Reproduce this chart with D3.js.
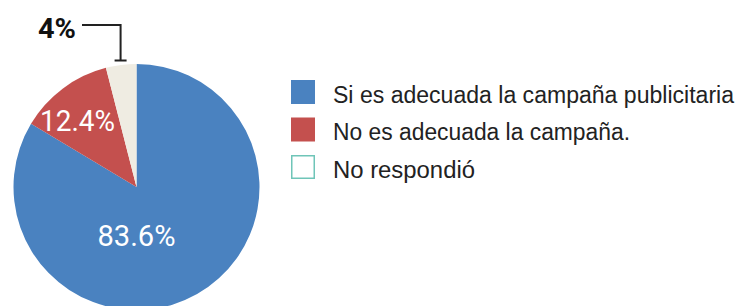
<!DOCTYPE html>
<html><head><meta charset="utf-8">
<script src="https://cdn.jsdelivr.net/npm/d3@7"></script>
<style>html,body{margin:0;padding:0;background:#fff;}svg{display:block;}</style>
</head><body>
<svg id="c" width="746" height="306"></svg>
<script>
const categories = ["Si es adecuada la campaña publicitaria", "No es adecuada la campaña.", "No respondió"];
const values = [83.6, 12.4, 4];
const valueLabels = ["83.6%", "12.4%", "4%"];
const colors = ["#4a82c0", "#c4504e", "#efece2"];
const legendStroke = [null, null, "#6fc5b8"];
const legendWidths = [401, 297, 142];

const svg = d3.select("#c");
const cx = 136.5, cy = 187, r = 123;
const g = svg.append("g").attr("transform", `translate(${cx},${cy})`);
const pie = d3.pie().sort(null).value(d => d)(values);
const arc = d3.arc().innerRadius(0).outerRadius(r);
g.selectAll("path").data(pie).join("path")
  .attr("d", arc).attr("fill", (d, i) => colors[i]);

// Labels
const labelOffsets = [[0, 59], [-59, -56], null];
const labelSizes = [30, 30];
const labelWidths = [78, 75];
pie.forEach((d, i) => {
  if (!labelOffsets[i]) return;
  g.append("text").attr("x", labelOffsets[i][0]).attr("y", labelOffsets[i][1])
    .attr("text-anchor", "middle").attr("fill", "#fff")
    .attr("font-family", "Roboto, sans-serif").attr("font-size", labelSizes[i])
    .attr("textLength", labelWidths[i]).attr("lengthAdjust", "spacingAndGlyphs")
    .text(valueLabels[i]);
});

// Callout for the small slice
const small = pie[2];
const mid = (small.startAngle + small.endAngle) / 2;
const tipX = cx + Math.sin(mid) * (r + 4), tipY = 60.5;
svg.append("path")
  .attr("d", `M82,25 H${tipX} V${tipY} M${tipX - 6},${tipY} H${tipX + 6}`)
  .attr("fill", "none").attr("stroke", "#222").attr("stroke-width", 2);
svg.append("text").attr("x", 57).attr("y", 38).attr("text-anchor", "middle")
  .attr("font-family", "Roboto, sans-serif").attr("font-weight", "bold").attr("font-size", 27)
  .attr("fill", "#111").attr("textLength", 38).attr("lengthAdjust", "spacingAndGlyphs")
  .text(valueLabels[2]);

// Legend
const lg = svg.append("g");
categories.forEach((c, i) => {
  const y = 80 + i * 37.5;
  lg.append("rect").attr("x", legendStroke[i] ? 291.75 : 291).attr("y", legendStroke[i] ? y + 0.75 : y)
    .attr("width", legendStroke[i] ? 22.5 : 24).attr("height", legendStroke[i] ? 22.5 : 24)
    .attr("fill", legendStroke[i] ? "#fff" : colors[i])
    .attr("stroke", legendStroke[i] || "none").attr("stroke-width", 1.5);
  lg.append("text").attr("x", 333).attr("y", y + 22.5)
    .attr("font-family", "'Liberation Sans', sans-serif").attr("font-size", 23)
    .attr("fill", "#222").attr("textLength", legendWidths[i]).attr("lengthAdjust", "spacingAndGlyphs")
    .text(c);
});
</script>
</body></html>
